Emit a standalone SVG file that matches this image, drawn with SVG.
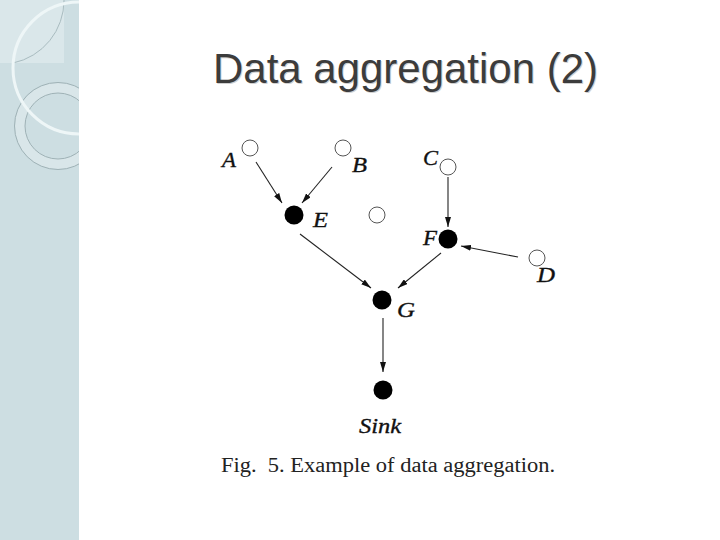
<svg xmlns="http://www.w3.org/2000/svg" width="720" height="540" viewBox="0 0 720 540">
<defs>
<style>
.lbl{font-family:"Liberation Serif","Times New Roman",serif;font-style:italic;font-size:22px;fill:#111;stroke:#111;stroke-width:0.35}
.open{fill:#fff;stroke:#555;stroke-width:1}
.full{fill:#000}
.edge{stroke:#222;stroke-width:1.1;fill:none;marker-end:url(#ah)}
.ttl{font-family:"Liberation Sans",Arial,sans-serif;font-size:42px}
</style>
<marker id="ah" viewBox="0 0 10 6" refX="10" refY="3" markerWidth="10" markerHeight="6" markerUnits="userSpaceOnUse" orient="auto">
<path d="M0,0 L10,3 L0,6 Z" fill="#111"/>
</marker>
<clipPath id="band"><rect x="0" y="0" width="79" height="540"/></clipPath>
</defs>
<rect width="720" height="540" fill="#fff"/>
<g id="sideband" clip-path="url(#band)">
<rect x="0" y="0" width="79" height="540" fill="#cddee2"/>
<rect x="0" y="0" width="64" height="63" fill="#dae7ea"/>
<path d="M64,0 A64,64 0 0 1 13,63" fill="none" stroke="#a9bcc0" stroke-width="1"/>
<circle cx="58" cy="126" r="38" fill="none" stroke="#d9e6e9" stroke-width="10"/>
<circle cx="58" cy="126" r="43.5" fill="none" stroke="#9fb2b6" stroke-width="1"/>
<circle cx="58" cy="126" r="33" fill="none" stroke="#9fb2b6" stroke-width="1"/>
<circle cx="79" cy="68" r="66" fill="none" stroke="#eef6f7" stroke-width="3"/>
</g>
<text class="ttl" x="214" y="84" fill="#d0d0d0" textLength="385" lengthAdjust="spacingAndGlyphs">Data aggregation (2)</text>
<text id="title" class="ttl" x="213" y="83" fill="#3c3c3c" textLength="385" lengthAdjust="spacingAndGlyphs">Data aggregation (2)</text>
<g id="connectors">
<line class="edge" x1="256" y1="162" x2="282" y2="203"/>
<line class="edge" x1="332" y1="167" x2="302" y2="203"/>
<line class="edge" x1="448" y1="177" x2="448" y2="227"/>
<line class="edge" x1="518" y1="257" x2="461" y2="246"/>
<line class="edge" x1="300" y1="234" x2="371" y2="288"/>
<line class="edge" x1="441" y1="253" x2="398" y2="288"/>
<line class="edge" x1="383" y1="318" x2="383" y2="372"/>
</g>
<g id="A"><circle class="open" cx="250" cy="148" r="8"/><text class="lbl" x="222" y="167" textLength="14" lengthAdjust="spacingAndGlyphs">A</text></g>
<g id="B"><circle class="open" cx="343" cy="148" r="8"/><text class="lbl" x="352" y="172" textLength="15" lengthAdjust="spacingAndGlyphs">B</text></g>
<g id="C"><circle class="open" cx="448" cy="167" r="8"/><text class="lbl" x="423" y="165" textLength="15" lengthAdjust="spacingAndGlyphs">C</text></g>
<g id="D"><circle class="open" cx="537" cy="258" r="8"/><text class="lbl" x="537" y="282" textLength="18" lengthAdjust="spacingAndGlyphs">D</text></g>
<g id="E"><circle class="full" cx="294" cy="215" r="9.5"/><text class="lbl" x="313" y="227" textLength="15" lengthAdjust="spacingAndGlyphs">E</text></g>
<g id="X"><circle class="open" cx="377" cy="215" r="8"/></g>
<g id="F"><circle class="full" cx="448" cy="239" r="9.5"/><text class="lbl" x="423" y="245" textLength="14" lengthAdjust="spacingAndGlyphs">F</text></g>
<g id="G"><circle class="full" cx="382" cy="300" r="9.5"/><text class="lbl" x="397" y="317" textLength="18" lengthAdjust="spacingAndGlyphs">G</text></g>
<g id="Sink"><circle class="full" cx="383" cy="390" r="9.5"/><text class="lbl" x="359" y="433" textLength="42" lengthAdjust="spacingAndGlyphs">Sink</text></g>
<text id="caption" x="221" y="472" font-family="'Liberation Serif','Times New Roman',serif" font-size="20" fill="#222" textLength="334" lengthAdjust="spacingAndGlyphs" xml:space="preserve">Fig.  5. Example of data aggregation.</text>
</svg>
